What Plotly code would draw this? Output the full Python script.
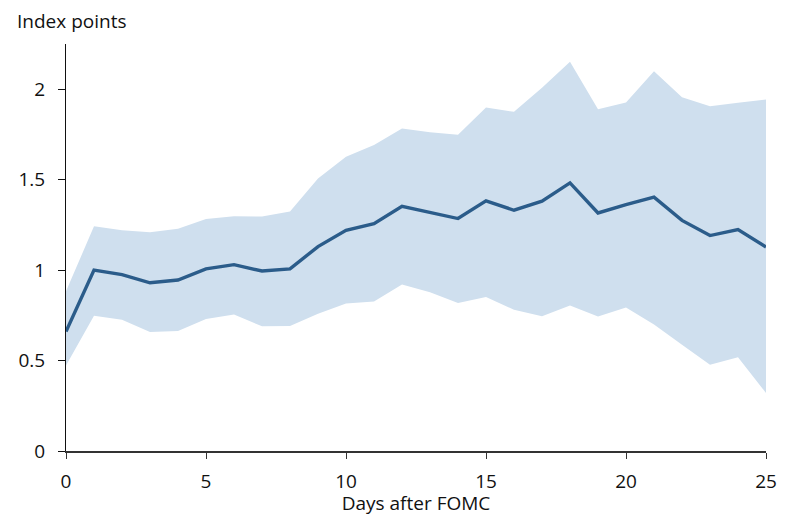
import plotly.graph_objects as go

days = list(range(26))
mean = [0.66, 1.0, 0.975, 0.93, 0.945, 1.007, 1.03, 0.995, 1.007, 1.13, 1.22, 1.257,
        1.353, 1.32, 1.285, 1.383, 1.331, 1.381, 1.482, 1.316, 1.362, 1.403, 1.275,
        1.191, 1.224, 1.128]
upper = [0.883, 1.242, 1.22, 1.209, 1.228, 1.283, 1.298, 1.296, 1.324, 1.506, 1.626,
         1.692, 1.783, 1.762, 1.748, 1.899, 1.875, 2.008, 2.152, 1.889, 1.926, 2.1,
         1.956, 1.906, 1.925, 1.943]
lower = [0.472, 0.748, 0.726, 0.658, 0.664, 0.730, 0.754, 0.689, 0.691, 0.759, 0.815,
         0.827, 0.92, 0.877, 0.818, 0.852, 0.781, 0.745, 0.804, 0.743, 0.793, 0.699,
         0.588, 0.477, 0.518, 0.321]

x_ticks = [0, 5, 10, 15, 20, 25]
y_ticks = [0, 0.5, 1, 1.5, 2]
y_tick_labels = ["0", "0.5", "1", "1.5", "2"]

FONT = "Open Sans"
BAND = "#CFDFEE"
LINE = "#2B5C8A"

fig = go.Figure()
fig.add_trace(go.Scatter(x=days, y=lower, mode="lines", line=dict(width=0, color=BAND),
                         showlegend=False, hoverinfo="skip"))
fig.add_trace(go.Scatter(x=days, y=upper, mode="lines", line=dict(width=0, color=BAND),
                         fill="tonexty", fillcolor=BAND, showlegend=False, hoverinfo="skip"))
fig.add_trace(go.Scatter(x=days, y=mean, mode="lines", line=dict(width=3.4, color=LINE),
                         showlegend=False))

# page body has an 8px margin, so figure is sized/offset to compensate
fig.update_layout(
    width=778, height=508,
    margin=dict(l=58, r=20, t=36, b=65),
    plot_bgcolor="white", paper_bgcolor="white",
    font=dict(family=FONT, size=19, color="#111111"),
    annotations=[dict(text="Index points", xref="paper", yref="paper", x=-0.0729, y=1.0,
                      xanchor="left", yanchor="bottom", yshift=8, showarrow=False,
                      font=dict(family=FONT, size=19, color="#111111"))],
)
fig.update_xaxes(
    range=[0, 25], tickvals=x_ticks, ticks="outside", ticklen=6, tickcolor="#333333",
    showline=True, linecolor="#333333", linewidth=1.5, showgrid=False, zeroline=False,
    automargin=False, ticklabelstandoff=6,
    title=dict(text="Days after FOMC", standoff=4, font=dict(family=FONT, size=19)),
    tickfont=dict(size=19),
)
fig.update_yaxes(
    range=[0, 2.25], tickvals=y_ticks, ticktext=y_tick_labels, ticks="outside", ticklen=7,
    tickcolor="#111111", showline=True, linecolor="#111111", linewidth=1.2,
    showgrid=False, zeroline=False, automargin=False, tickfont=dict(size=19),
    ticklabelstandoff=9,
)

fig.write_html("out.html")
